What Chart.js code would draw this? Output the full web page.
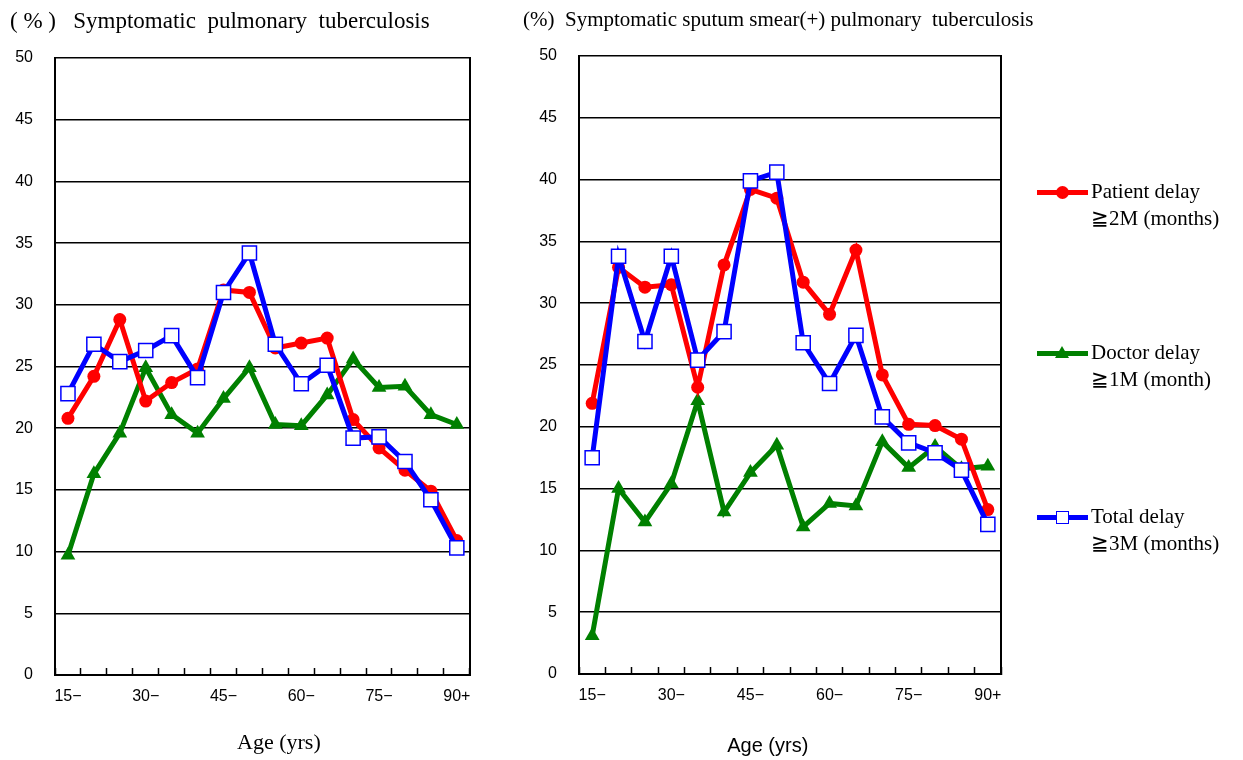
<!DOCTYPE html>
<html>
<head>
<meta charset="utf-8">
<script src="https://cdn.jsdelivr.net/npm/chart.js@4.4.1/dist/chart.umd.min.js"></script>
<style>
  html, body { margin: 0; padding: 0; background: #fff; }
  body { width: 1243px; height: 760px; position: relative; overflow: hidden; }
  .box { position: absolute; top: 0; height: 760px; }
  #leftBox { left: 0; width: 490px; }
  #rightBox { left: 505px; width: 565px; }
  #legend { position: absolute; left: 1037px; top: 0; width: 206px; height: 760px;
            font-family: 'Liberation Serif', serif; font-size: 21px; color: #000; }
  .item { position: absolute; left: 0; width: 206px; }
  .icon { position: absolute; left: 0; top: -2.5px; width: 51px; height: 5px; }
  .mark { position: absolute; box-sizing: border-box; }
  .label { position: absolute; left: 54px; top: -14px; line-height: 27px; white-space: nowrap; }
</style>
</head>
<body>
<div class="box" id="leftBox"><canvas id="leftChart"></canvas></div>
<div class="box" id="rightBox"><canvas id="rightChart"></canvas></div>
<div id="legend"></div>
<script>
// age groups (only every third one gets a label on the axis)
const ageLabels = ['15−', '20−', '25−', '30−', '35−', '40−', '45−', '50−',
                   '55−', '60−', '65−', '70−', '75−', '80−', '85−', '90+'];

// Symptomatic pulmonary tuberculosis (%)
const patientDelayAll = [20.8, 24.2, 28.8, 22.2, 23.7, 24.8, 31.2, 31.0, 26.5, 26.9, 27.3, 20.7, 18.4, 16.6, 14.9, 10.9];
const doctorDelayAll  = [9.7, 16.3, 19.6, 24.9, 21.1, 19.6, 22.4, 24.9, 20.3, 20.2, 22.7, 25.6, 23.3, 23.4, 21.1, 20.3];
const totalDelayAll   = [22.8, 26.8, 25.4, 26.3, 27.5, 24.1, 31.0, 34.2, 26.8, 23.6, 25.1, 19.2, 19.3, 17.3, 14.2, 10.3];

// Symptomatic sputum smear(+) pulmonary tuberculosis (%)
const patientDelaySmear = [21.9, 32.9, 31.3, 31.5, 23.2, 33.1, 39.2, 38.5, 31.7, 29.1, 34.3, 24.2, 20.2, 20.1, 19.0, 13.3];
const doctorDelaySmear  = [3.1, 15.0, 12.3, 15.4, 22.1, 13.1, 16.3, 18.5, 11.9, 13.8, 13.6, 18.8, 16.7, 18.4, 16.6, 16.8];
const totalDelaySmear   = [17.5, 33.8, 26.9, 33.8, 25.4, 27.7, 39.9, 40.6, 26.8, 23.5, 27.4, 20.8, 18.7, 17.9, 16.5, 12.1];

const seriesNames  = ['Patient delay', 'Doctor delay', 'Total delay'];
const seriesNotes  = ['≧2M (months)', '≧1M (month)', '≧3M (months)'];
const seriesColors = ['#ff0000', '#008000', '#0000ff'];

function makeChart(canvas, cfg) {
    return new Chart(canvas, {
        type: 'line',
        data: {
            labels: ageLabels,
            datasets: [{
                label: seriesNames[0],
                data: cfg.patient,
                borderColor: seriesColors[0],
                backgroundColor: seriesColors[0],
                borderWidth: 5,
                pointStyle: 'circle',
                pointRadius: 6.5,
                pointBorderWidth: 0,
                order: 1
            }, {
                label: seriesNames[1],
                data: cfg.doctor,
                borderColor: seriesColors[1],
                backgroundColor: seriesColors[1],
                borderWidth: 5,
                pointStyle: 'triangle',
                pointRadius: 8.5,
                pointBorderWidth: 0,
                order: 2
            }, {
                label: seriesNames[2],
                data: cfg.total,
                borderColor: seriesColors[2],
                backgroundColor: '#ffffff',
                borderWidth: 5,
                pointStyle: 'rect',
                pointRadius: 10,
                pointBorderColor: seriesColors[2],
                pointBorderWidth: 1.5,
                order: 0
            }]
        },
        options: {
            responsive: true,
            maintainAspectRatio: false,
            animation: false,
            layout: {
                padding: { left: cfg.padLeft, right: 0, top: 0, bottom: 0 }
            },
            elements: { line: { tension: 0 } },
            plugins: {
                legend: { display: false },
                tooltip: { enabled: false },
                title: {
                    display: true,
                    text: cfg.title,
                    align: 'start',
                    color: '#000',
                    font: { family: 'Liberation Serif', size: cfg.titleSize, weight: 'normal' },
                    padding: { top: 8, bottom: cfg.titleGap }
                }
            },
            scales: {
                x: {
                    offset: true,
                    grid: {
                        offset: true,
                        drawOnChartArea: false,
                        drawTicks: true,
                        tickLength: -7,
                        tickColor: '#000',
                        tickWidth: 1.5
                    },
                    border: { display: true, color: '#000', width: 2 },
                    ticks: {
                        autoSkip: false,
                        maxRotation: 0,
                        padding: 19,
                        color: '#000',
                        font: { family: 'Liberation Sans', size: 16 },
                        callback: function(value, index) {
                            return index % 3 === 0 ? ageLabels[index] : '';
                        }
                    },
                    title: {
                        display: true,
                        text: cfg.xTitle,
                        color: '#000',
                        font: cfg.xTitleFont,
                        padding: { top: 0, bottom: cfg.xTitlePad }
                    },
                    afterFit: function(scale) { scale.height = cfg.xHeight; }
                },
                y: {
                    min: 0,
                    max: 50,
                    ticks: {
                        stepSize: 5,
                        padding: 22,
                        color: '#000',
                        font: { family: 'Liberation Sans', size: 16 }
                    },
                    grid: { color: '#000', lineWidth: 1.5, drawTicks: false },
                    border: { display: true, color: '#000', width: 2 },
                    afterFit: function(scale) { scale.width = cfg.yWidth; }
                },
                // closes the box on the right and keeps room for the long title
                yRight: {
                    position: 'right',
                    ticks: { display: false },
                    grid: { drawOnChartArea: false, drawTicks: false },
                    border: { display: true, color: '#000', width: 2 },
                    afterFit: function(scale) { scale.width = cfg.rightSpace; }
                }
            }
        }
    });
}

makeChart(document.getElementById('leftChart'), {
    patient: patientDelayAll,
    doctor: doctorDelayAll,
    total: totalDelayAll,
    title: '( % )   Symptomatic  pulmonary  tuberculosis',
    titleSize: 23,
    titleGap: 22.4,
    padLeft: 10,
    rightSpace: 20,
    yWidth: 45,
    xHeight: 85,
    xTitle: '      Age (yrs)',
    xTitleFont: { family: 'Liberation Serif', size: 22, weight: 'normal' },
    xTitlePad: 4
});

makeChart(document.getElementById('rightChart'), {
    patient: patientDelaySmear,
    doctor: doctorDelaySmear,
    total: totalDelaySmear,
    title: '(%)  Symptomatic sputum smear(+) pulmonary  tuberculosis',
    titleSize: 21,
    titleGap: 22.8,
    padLeft: 18,
    rightSpace: 69,
    yWidth: 56,
    xHeight: 86,
    xTitle: 'Age (yrs)        ',
    xTitleFont: { family: 'Liberation Sans', size: 20, weight: 'normal' },
    xTitlePad: 2
});

// legend on the right, built from the series arrays
const legendY = [192, 353, 517];
const legend = document.getElementById('legend');
seriesNames.forEach(function(name, i) {
    const item = document.createElement('div');
    item.className = 'item';
    item.style.top = legendY[i] + 'px';

    const icon = document.createElement('div');
    icon.className = 'icon';
    icon.style.background = seriesColors[i];
    const mark = document.createElement('div');
    mark.className = 'mark';
    if (i === 0) {
        mark.style.cssText = 'left:19px;top:-4px;width:13px;height:13px;border-radius:50%;background:' + seriesColors[i];
    } else if (i === 1) {
        mark.style.cssText = 'left:18px;top:-5px;width:0;height:0;border-left:7.5px solid transparent;' +
            'border-right:7.5px solid transparent;border-bottom:12px solid ' + seriesColors[i];
    } else {
        mark.style.cssText = 'left:19px;top:-4px;width:13px;height:13px;background:#fff;border:1.5px solid ' + seriesColors[i];
    }
    icon.appendChild(mark);

    const label = document.createElement('div');
    label.className = 'label';
    label.innerHTML = name + '<br>' + seriesNotes[i];

    item.appendChild(icon);
    item.appendChild(label);
    legend.appendChild(item);
});
</script>
</body>
</html>
